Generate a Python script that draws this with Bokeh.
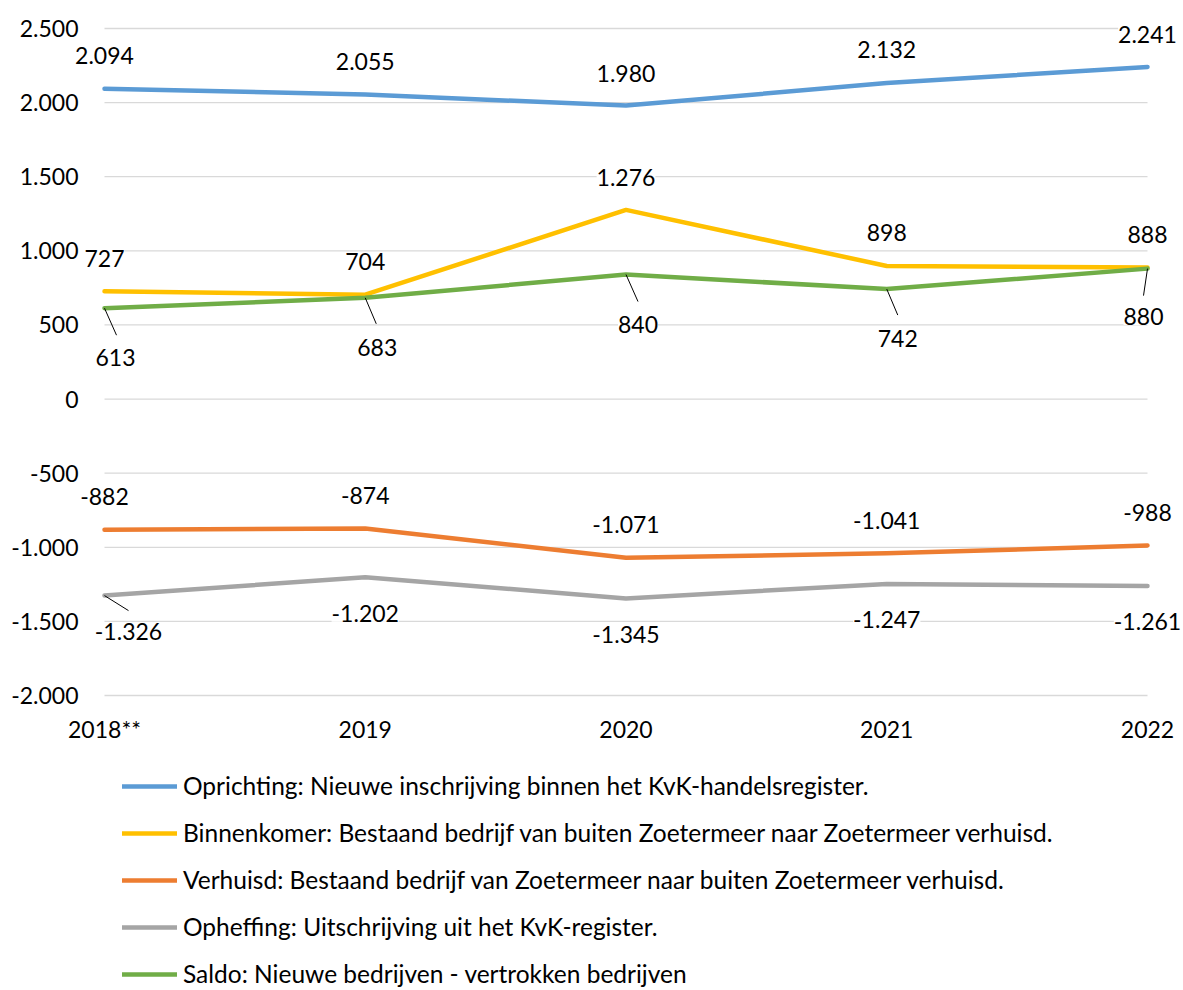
from bokeh.plotting import figure
from bokeh.models import (ColumnDataSource, LabelSet, Legend, LegendItem,
                          FixedTicker, Range1d)
from bokeh.core.properties import value
from bokeh.embed import file_html
from bokeh.resources import INLINE

# ---------------- data ----------------
years = ["2018**", "2019", "2020", "2021", "2022"]
oprichting = [2094, 2055, 1980, 2132, 2241]
binnenkomer = [727, 704, 1276, 898, 888]
verhuisd = [-882, -874, -1071, -1041, -988]
opheffing = [-1326, -1202, -1345, -1247, -1261]
saldo = [613, 683, 840, 742, 880]

series_names = [
    "Oprichting: Nieuwe inschrijving binnen het KvK-handelsregister.",
    "Binnenkomer: Bestaand bedrijf van buiten Zoetermeer naar Zoetermeer verhuisd.",
    "Verhuisd: Bestaand bedrijf van Zoetermeer naar buiten Zoetermeer verhuisd.",
    "Opheffing: Uitschrijving uit het KvK-register.",
    "Saldo: Nieuwe bedrijven - vertrokken bedrijven",
]
y_ticks = [-2000, -1500, -1000, -500, 0, 500, 1000, 1500, 2000, 2500]
y_min, y_max = -2000, 2500

# ---------------- layout / styles ----------------
W, H = 1183, 990
colors = ["#5B9BD5", "#FFC000", "#ED7D31", "#A5A5A5", "#70AD47"]
FONT = "Lato"
FS = "23px"
LEG_FS = "24.5px"
# pixel geometry of the value area (where x=first..last, y=y_min..y_max)
AREA_L, AREA_R, AREA_T, AREA_B = 104, 1147, 28, 695

# label offsets in screen pixels (dx right, dy up)
label_dx = [
    [0, 0, 0, 0, 0],
    [0, 0, 0, 0, 0],
    [0, 0, 0, 0, 0],
    [24, 0, 0, 0, 0],
    [11, 12, 12, 11, -4],
]
label_dy = [
    [33, 33, 32, 34, 32],
    [33, 33, 32, 33, 33],
    [33, 33, 33, 33, 33],
    [-36, -36, -36, -36, -36],
    [-49, -50, -50, -49, -48],
]
# leader lines (series index, point index, end dx, end dy) in pixels
leaders = [
    (4, 0, 12, -27), (4, 1, 11, -26), (4, 2, 12, -27), (4, 3, 11, -26), (4, 4, -4, -27),
    (3, 0, 24, -15),
]


def nl(v):
    return f"{v:,}".replace(",", ".")


all_series = [oprichting, binnenkomer, verhuisd, opheffing, saldo]
xs = list(range(len(years)))

px_x = (AREA_R - AREA_L) / (xs[-1] - xs[0])
px_y = (AREA_B - AREA_T) / (y_max - y_min)
x_range = Range1d(xs[0] - AREA_L / px_x, xs[-1] + (W - AREA_R) / px_x)
y_range = Range1d(y_min - (H - AREA_B) / px_y, y_max + AREA_T / px_y)

p = figure(width=W, height=H, x_range=x_range, y_range=y_range,
           output_backend="svg", toolbar_location=None,
           min_border_left=0, min_border_right=0, min_border_top=0,
           min_border_bottom=0)
p.outline_line_color = None
p.background_fill_color = "white"
p.border_fill_color = "white"
p.xgrid.grid_line_color = None
p.ygrid.grid_line_color = None

p.yaxis.ticker = FixedTicker(ticks=y_ticks)
p.yaxis.major_label_overrides = {t: nl(t) for t in y_ticks}
p.yaxis.fixed_location = xs[0]
p.xaxis.ticker = FixedTicker(ticks=xs)
p.xaxis.major_label_overrides = {i: y for i, y in zip(xs, years)}
p.xaxis.fixed_location = y_min
for ax in (p.xaxis, p.yaxis):
    ax.axis_line_color = None
    ax.major_tick_line_color = None
    ax.minor_tick_line_color = None
    ax.major_tick_in = 0
    ax.major_tick_out = 0
    ax.major_label_text_font = FONT
    ax.major_label_text_font_size = FS
    ax.major_label_text_color = "black"
p.yaxis.major_label_standoff = 26
p.xaxis.major_label_standoff = 19

# horizontal gridlines spanning the category extent
p.segment(x0=[xs[0]] * len(y_ticks), y0=y_ticks, x1=[xs[-1]] * len(y_ticks),
          y1=y_ticks, line_color="#D9D9D9", line_width=1.3)

renderers = []
for vals, col in zip(all_series, colors):
    r = p.line(xs, vals, line_color=col, line_width=4.5,
               line_cap="round", line_join="round")
    renderers.append(r)

# leader lines
lx0, ly0, lx1, ly1 = [], [], [], []
for si, pi, ex, ey in leaders:
    v = all_series[si][pi]
    lx0.append(xs[pi]); ly0.append(v)
    lx1.append(xs[pi] + ex / px_x); ly1.append(v + ey / px_y)
p.segment(lx0, ly0, lx1, ly1, line_color="black", line_width=1)

for vals, dxs, dys in zip(all_series, label_dx, label_dy):
    src = ColumnDataSource(dict(x=xs, y=vals, text=[nl(v) for v in vals],
                                dx=dxs, dy=dys))
    ls = LabelSet(x="x", y="y", text="text", x_offset="dx", y_offset="dy",
                  source=src, text_align="center", text_baseline="middle",
                  text_font=value(FONT), text_font_size=FS, text_color="black",
                  background_fill_color="white")
    p.add_layout(ls)

items = [LegendItem(label=n, renderers=[r]) for n, r in zip(series_names, renderers)]
legend = Legend(items=items, location=(122, 2), orientation="vertical",
                padding=0, margin=0, spacing=18, label_height=24, glyph_height=24,
                glyph_width=55, label_standoff=6, border_line_color=None,
                background_fill_alpha=0, label_text_font=FONT,
                label_text_font_size=LEG_FS, label_text_color="black")
p.add_layout(legend)

open("out.html", "w").write(file_html(p, INLINE))
